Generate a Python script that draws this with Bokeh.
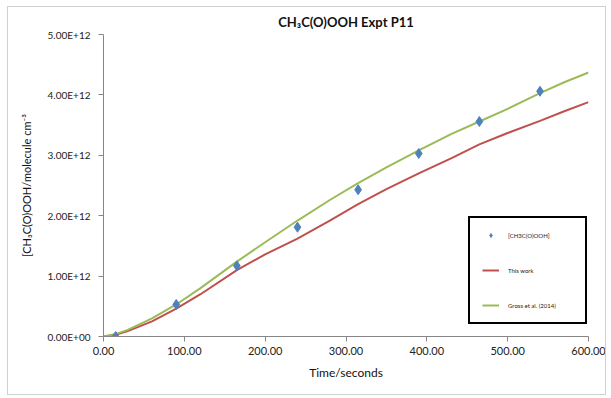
from bokeh.plotting import figure
from bokeh.models import (Range1d, CustomJSTickFormatter, NumeralTickFormatter, Legend,
                          LegendItem, Title, FixedTicker)
from bokeh.embed import file_html
from bokeh.resources import INLINE

# observed data
obs_time = [15, 90, 165, 240, 315, 390, 465, 540]
obs_conc = [0.0, 0.53e12, 1.17e12, 1.81e12, 2.43e12, 3.03e12, 3.56e12, 4.06e12]

# model curves
model_time = [0, 15, 30, 60, 90, 120, 165, 200, 240, 280, 315, 350, 390, 430, 465, 500, 540, 570, 600]
this_work = [0, 0.03e12, 0.09e12, 0.25e12, 0.46e12, 0.70e12, 1.10e12, 1.36e12, 1.62e12, 1.92e12,
             2.19e12, 2.44e12, 2.70e12, 2.95e12, 3.18e12, 3.37e12, 3.57e12, 3.73e12, 3.88e12]
gross_2014 = [0, 0.04e12, 0.11e12, 0.30e12, 0.53e12, 0.80e12, 1.24e12, 1.56e12, 1.92e12, 2.26e12,
              2.54e12, 2.80e12, 3.08e12, 3.35e12, 3.56e12, 3.77e12, 4.03e12, 4.21e12, 4.37e12]

x_ticks = [0, 100, 200, 300, 400, 500, 600]
y_ticks = [0, 1e12, 2e12, 3e12, 4e12, 5e12]

FONT = "Lato"
BLUE, RED, GREEN = "#4F81BD", "#C0504D", "#9BBB59"

p = figure(width=611, height=398, output_backend="svg", toolbar_location=None,
           x_range=Range1d(0, 600), y_range=Range1d(0, 5e12),
           min_border_left=103, min_border_right=23, min_border_top=34, min_border_bottom=62,
           frame_width=485, frame_height=302)
p.title.visible = False
p.outline_line_color = None
p.xgrid.visible = False
p.ygrid.visible = False
p.background_fill_color = "white"
p.border_fill_color = "white"

r_red = p.line(model_time, this_work, line_color=RED, line_width=2)
r_green = p.line(model_time, gross_2014, line_color=GREEN, line_width=2)
# small diamonds (used for the legend swatch), hidden under the plotted markers
r_obs_leg = p.scatter(obs_time, obs_conc, marker="diamond", size=7, fill_color=BLUE, line_color=BLUE)
p.scatter(obs_time, obs_conc, marker="diamond", size=10, fill_color=BLUE, line_color=BLUE)

for ax in (p.xaxis[0], p.yaxis[0]):
    ax.axis_line_color = "#868686"
    ax.major_tick_line_color = "#868686"
    ax.minor_tick_line_color = None
    ax.major_tick_in = 0
    ax.major_tick_out = 5
    ax.major_label_text_font = FONT
    ax.major_label_text_color = "#222222"
    ax.axis_label_text_font = FONT
    ax.axis_label_text_font_style = "normal"
    ax.axis_label_text_color = "#111111"

p.xaxis[0].ticker = FixedTicker(ticks=x_ticks)
p.yaxis[0].ticker = FixedTicker(ticks=y_ticks)
p.xaxis[0].formatter = NumeralTickFormatter(format="0.00")
p.xaxis[0].major_label_text_font_size = "11px"
p.yaxis[0].major_label_text_font_size = "10px"
p.yaxis[0].major_label_standoff = 8
p.yaxis[0].formatter = CustomJSTickFormatter(code="""
const s = tick.toExponential(2).toUpperCase();
const parts = s.split('E');
const sign = parts[1][0];
let d = parts[1].slice(1);
if (d.length < 2) d = '0' + d;
return parts[0] + 'E' + sign + d;
""")
p.yaxis[0].axis_label = "[CH\u2083C(O)OOH/molecule cm\u207B\u00B3"
p.yaxis[0].axis_label_text_font_size = "11px"
p.yaxis[0].axis_label_standoff = 12

xt = Title(text="Time/seconds", align="center", offset=-10, text_font=FONT,
           text_font_size="12px", text_font_style="normal", text_color="#111111")
p.add_layout(xt, "below")

tt = Title(text="CH\u2083C(O)OOH Expt P11", align="center", offset=-34, text_font=FONT,
           text_font_size="13px", text_font_style="bold", text_color="#111111")
p.add_layout(tt, "above")

legend = Legend(items=[LegendItem(label="[CH3C(O)OOH]", renderers=[r_obs_leg]),
                       LegendItem(label="This work", renderers=[r_red]),
                       LegendItem(label="Gross et al. (2014)", renderers=[r_green])],
                location=(365, 12), border_line_color="black", border_line_width=2,
                border_line_alpha=1,
                background_fill_color="white", background_fill_alpha=1,
                label_text_font=FONT, label_text_font_size="6px", label_text_color="#222222",
                label_height=10, glyph_height=10, glyph_width=17, label_standoff=9,
                spacing=25, padding=12, label_width=65, margin=0)
p.add_layout(legend, "center")

html = file_html(p, INLINE)
# thin light-grey border around the whole chart area (as in the Excel chart)
frame_css = ("<style>body::after{content:'';position:fixed;left:7px;top:6px;width:597px;"
             "height:387px;border:1px solid #d0d0d0;pointer-events:none;z-index:10;}</style>")
html = html.replace("</head>", frame_css + "</head>", 1)
open("out.html", "w").write(html)
